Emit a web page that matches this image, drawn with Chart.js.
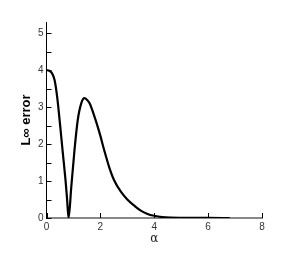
<!DOCTYPE html>
<html><head><meta charset="utf-8">
<script src="https://cdn.jsdelivr.net/npm/chart.js@4"></script>
<style>html,body{margin:0;padding:0;background:#fff}#w{width:288px;height:256px}</style>
</head><body><div id="w"><canvas id="c"></canvas></div>
<script>
const alpha = [0,0.1,0.2,0.3,0.4,0.5,0.6,0.7,0.76,0.82,0.92,1.04,1.16,1.29,1.41,1.5,1.6,1.7,1.8,1.9,2.0,2.14,2.32,2.51,2.76,3.0,3.25,3.5,3.75,4.0,4.3,4.6,5.0,6.0,6.8];
const errorVals = [4.0,3.98,3.92,3.73,3.25,2.55,1.8,1.07,0.55,0.0,0.84,1.84,2.65,3.1,3.24,3.2,3.1,2.92,2.7,2.47,2.22,1.84,1.39,1.02,0.71,0.5,0.34,0.2,0.11,0.06,0.025,0.01,0.004,0.001,0.0];
const xTicks = [0,2,4,6,8];
const yTicks = [0,0.5,1,1.5,2,2.5,3,3.5,4,4.5,5];
const yLabelTicks = [0,1,2,3,4,5];

const tickMarks = {
  id:'tickMarks',
  afterDatasetsDraw(chart){
    const {ctx, scales:{x,y}} = chart;
    ctx.save();
    ctx.strokeStyle='#000'; ctx.lineWidth=1;
    y.ticks.forEach(t=>{const p=Math.round(y.getPixelForValue(t.value))+0.5;ctx.beginPath();ctx.moveTo(x.left,p);ctx.lineTo(x.left+5,p);ctx.stroke();});
    x.ticks.forEach(t=>{const p=Math.round(x.getPixelForValue(t.value))+0.5;ctx.beginPath();ctx.moveTo(p,y.bottom);ctx.lineTo(p,y.bottom-5);ctx.stroke();});
    ctx.restore();
  }
};

new Chart(document.getElementById('c'),{
  type:'line',
  data:{datasets:[{data:alpha.map((a,i)=>({x:a,y:errorVals[i]})),borderColor:'#000',borderWidth:2.2,pointRadius:0,cubicInterpolationMode:'monotone',fill:false}]},
  options:{
    responsive:true,maintainAspectRatio:false,animation:false,
    layout:{padding:{top:22,right:26,left:0,bottom:0}},
    plugins:{legend:{display:false},tooltip:{enabled:false}},
    scales:{
      x:{type:'linear',min:0,max:8,
        afterBuildTicks:s=>{s.ticks=xTicks.map(v=>({value:v}));},
        afterFit:s=>{s.height=38;},
        grid:{display:false,drawTicks:false,tickLength:0},
        border:{display:true,color:'#888',width:2},
        ticks:{padding:3,color:'#333',font:{family:'Liberation Sans',size:10},callback:v=>String(v)},
        title:{display:true,text:'α',color:'#222',font:{family:'DejaVu Serif',size:12},padding:{top:0,bottom:10}}
      },
      y:{type:'linear',min:0,max:5.3,
        afterBuildTicks:s=>{s.ticks=yTicks.map(v=>({value:v}));},
        afterFit:s=>{s.width=46.5;},
        grid:{display:false,drawTicks:false,tickLength:0},
        border:{display:true,color:'#000',width:1},
        ticks:{padding:3,color:'#333',font:{family:'Liberation Sans',size:10},autoSkip:false,callback:v=>yLabelTicks.includes(v)?String(v):''},
        title:{display:true,text:'L∞ error',color:'#000',font:{family:'Liberation Sans',size:13,weight:'bold'},padding:{top:19,bottom:0}}
      }
    }
  },
  plugins:[tickMarks]
});
</script></body></html>
